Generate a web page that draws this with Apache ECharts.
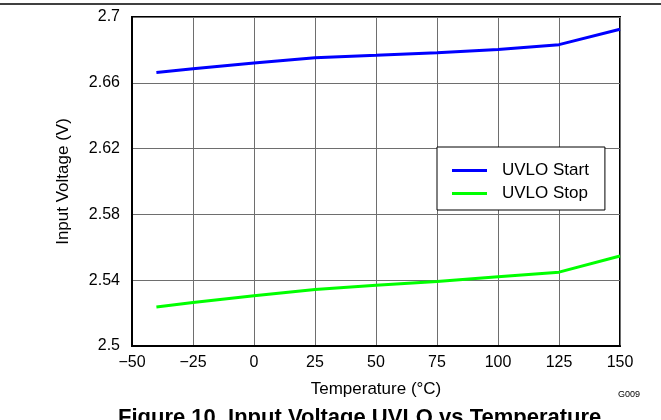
<!DOCTYPE html>
<html>
<head>
<meta charset="utf-8">
<script src="https://cdn.jsdelivr.net/npm/echarts@6/dist/echarts.min.js"></script>
<style>
html,body{margin:0;padding:0;background:#fff;}
#chart{width:661px;height:420px;}
</style>
</head>
<body>
<div id="chart"></div>
<script>
var temperatures = [-40, -25, 0, 25, 50, 75, 100, 125, 150];
var uvloStart = [2.6663, 2.6686, 2.6720, 2.6753, 2.6767, 2.6783, 2.6803, 2.6832, 2.6926];
var uvloStop = [2.5237, 2.5264, 2.5305, 2.5343, 2.5369, 2.5392, 2.5421, 2.5449, 2.5547];
var seriesNames = ['UVLO Start', 'UVLO Stop'];
var xAxisName = 'Temperature (°C)';
var yAxisName = 'Input Voltage (V)';
var figureTitle = 'Figure 10. Input Voltage UVLO vs Temperature';
var figureCode = 'G009';

function pairs(xs, ys) { return xs.map(function (x, i) { return [x, ys[i]]; }); }

var FONT = '"Liberation Sans", Arial, sans-serif';
var chart = echarts.init(document.getElementById('chart'), null, {renderer: 'canvas'});
chart.setOption({
  animation: false,
  backgroundColor: '#fff',
  textStyle: {fontFamily: FONT},
  grid: {left: 132, right: 41, top: 17, bottom: 74, show: true, borderColor: '#000', borderWidth: 2, backgroundColor: 'transparent'},
  xAxis: {
    type: 'value', min: -50, max: 150, interval: 25,
    name: xAxisName, nameLocation: 'middle', nameGap: 35,
    nameTextStyle: {fontSize: 17, color: '#000', fontFamily: FONT},
    axisLine: {show: true, onZero: false, lineStyle: {color: '#000', width: 2}},
    axisTick: {show: false},
    axisLabel: {fontSize: 16, color: '#000', margin: 9, fontFamily: FONT,
      formatter: function (v) { return String(v).replace('-', '\u2212'); }},
    splitLine: {show: true, lineStyle: {color: '#6e6e6e', width: 1}}
  },
  yAxis: {
    type: 'value', min: 2.5, max: 2.7, interval: 0.04,
    name: yAxisName, nameLocation: 'middle', nameGap: 60,
    nameTextStyle: {fontSize: 17, color: '#000', fontFamily: FONT},
    axisLine: {show: true, onZero: false, lineStyle: {color: '#000', width: 2}},
    axisTick: {show: false},
    axisLabel: {fontSize: 16, color: '#000', margin: 12, fontFamily: FONT,
      formatter: function (v) { return String(Math.round(v * 100) / 100); }},
    splitLine: {show: true, lineStyle: {color: '#6e6e6e', width: 1}}
  },
  legend: {
    orient: 'vertical', left: 437, top: 147,
    backgroundColor: '#fff', borderColor: '#000', borderWidth: 1,
    padding: [15, 16, 8, 15], itemGap: 6, itemWidth: 35, itemHeight: 3,
    icon: 'rect',
    textStyle: {fontSize: 17, color: '#000', fontFamily: FONT, padding: [0, 0, 0, 10]},
    data: seriesNames
  },
  series: [
    {name: seriesNames[0], type: 'line', data: pairs(temperatures, uvloStart), symbol: 'none',
      lineStyle: {color: '#0000ff', width: 3}, itemStyle: {color: '#0000ff'}},
    {name: seriesNames[1], type: 'line', data: pairs(temperatures, uvloStop), symbol: 'none',
      lineStyle: {color: '#00ff00', width: 3}, itemStyle: {color: '#00ff00'}}
  ],
  graphic: [
    {type: 'line', shape: {x1: 0, y1: 4, x2: 661, y2: 4}, style: {stroke: '#000', lineWidth: 1.5}},
    {type: 'text', left: 618, top: 390, style: {text: figureCode, fontSize: 9, fill: '#000', fontFamily: FONT}},
    {type: 'text', left: 118, top: 407, style: {text: figureTitle, fontSize: 22, fontWeight: 'bold', fill: '#000', fontFamily: FONT}}
  ]
});
</script>
</body>
</html>
